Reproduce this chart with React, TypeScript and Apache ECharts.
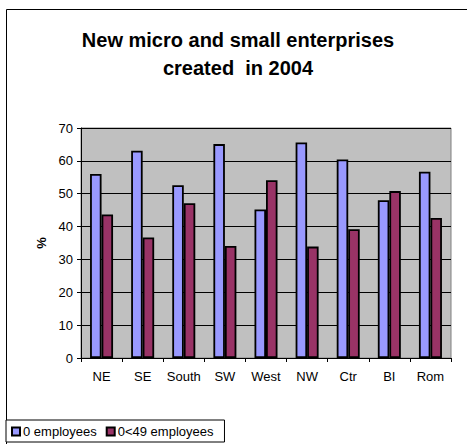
import React, { useEffect, useRef } from "react";
import * as echarts from "echarts";

const categories = ["NE", "SE", "South", "SW", "West", "NW", "Ctr", "BI", "Rom"];
const zeroEmployees = [56.0, 63.1, 52.6, 65.1, 45.2, 65.6, 60.4, 48.0, 56.7];
const smallEmployees = [43.7, 36.7, 47.1, 34.1, 54.1, 33.9, 39.2, 50.8, 42.6];
const seriesNames = ["0 employees", "0<49 employees"];

const FONT = "'Liberation Sans', Arial, sans-serif";

export default function App() {
  const ref = useRef<HTMLDivElement>(null);
  useEffect(() => {
    if (!ref.current) return;
    const chart = echarts.init(ref.current, null, { renderer: "svg" });
    chart.setOption({
      animation: false,
      backgroundColor: "#ffffff",
      textStyle: { fontFamily: FONT },
      title: {
        text: "New micro and small enterprises\ncreated  in 2004",
        left: 233,
        top: 21,
        textAlign: "center",
        textStyle: { fontFamily: FONT, fontSize: 20, fontWeight: "bold", color: "#000", lineHeight: 28 },
      },
      graphic: [
        {
          type: "rect",
          shape: { x: 6.5, y: 9.5, width: 470, height: 450 },
          style: { fill: "none", stroke: "#000", lineWidth: 1 },
          z: -1,
        },
      ],
      legend: {
        left: 6,
        top: 420,
        orient: "horizontal",
        backgroundColor: "#fff",
        borderColor: "#000",
        borderWidth: 1,
        padding: [5, 11, 4, 5],
        itemGap: 9,
        itemWidth: 8,
        itemHeight: 8,
        icon: "rect",
        textStyle: { fontFamily: FONT, fontSize: 13, color: "#000", padding: [0, 0, 0, -2] },
        data: seriesNames,
      },
      grid: {
        left: 81,
        right: 16,
        top: 128,
        bottom: 86,
        show: true,
        backgroundColor: "#C0C0C0",
        borderColor: "#808080",
        borderWidth: 1,
      },
      xAxis: {
        type: "category",
        data: categories,
        axisLine: { lineStyle: { color: "#000", width: 1 } },
        axisTick: { show: true, interval: 0, length: 4, alignWithLabel: false, lineStyle: { color: "#000" } },
        axisLabel: { fontFamily: FONT, fontSize: 13, color: "#000", margin: 12, interval: 0 },
      },
      yAxis: {
        type: "value",
        min: 0,
        max: 70,
        interval: 10,
        name: "%",
        nameLocation: "middle",
        nameGap: 31,
        nameTextStyle: { fontFamily: FONT, fontSize: 13, fontWeight: "bold", color: "#000" },
        axisLine: { show: true, lineStyle: { color: "#000", width: 1 } },
        axisTick: { show: true, length: 4, lineStyle: { color: "#000" } },
        axisLabel: { fontFamily: FONT, fontSize: 13, color: "#000", margin: 8 },
        splitLine: { show: true, lineStyle: { color: "#000", width: 1 } },
      },
      series: [
        {
          name: seriesNames[0],
          type: "bar",
          data: zeroEmployees,
          barWidth: 11.5,
          barGap: "0%",
          itemStyle: { color: "#9999FF", borderColor: "#000", borderWidth: 1.8 },
        },
        {
          name: seriesNames[1],
          type: "bar",
          data: smallEmployees,
          barWidth: 11.5,
          barGap: "0%",
          itemStyle: { color: "#993366", borderColor: "#000", borderWidth: 1.8 },
        },
      ],
    });
    return () => chart.dispose();
  }, []);
  return (
    <div
      ref={ref}
      style={{ position: "absolute", left: 0, top: 0, width: 467, height: 444 }}
    />
  );
}
